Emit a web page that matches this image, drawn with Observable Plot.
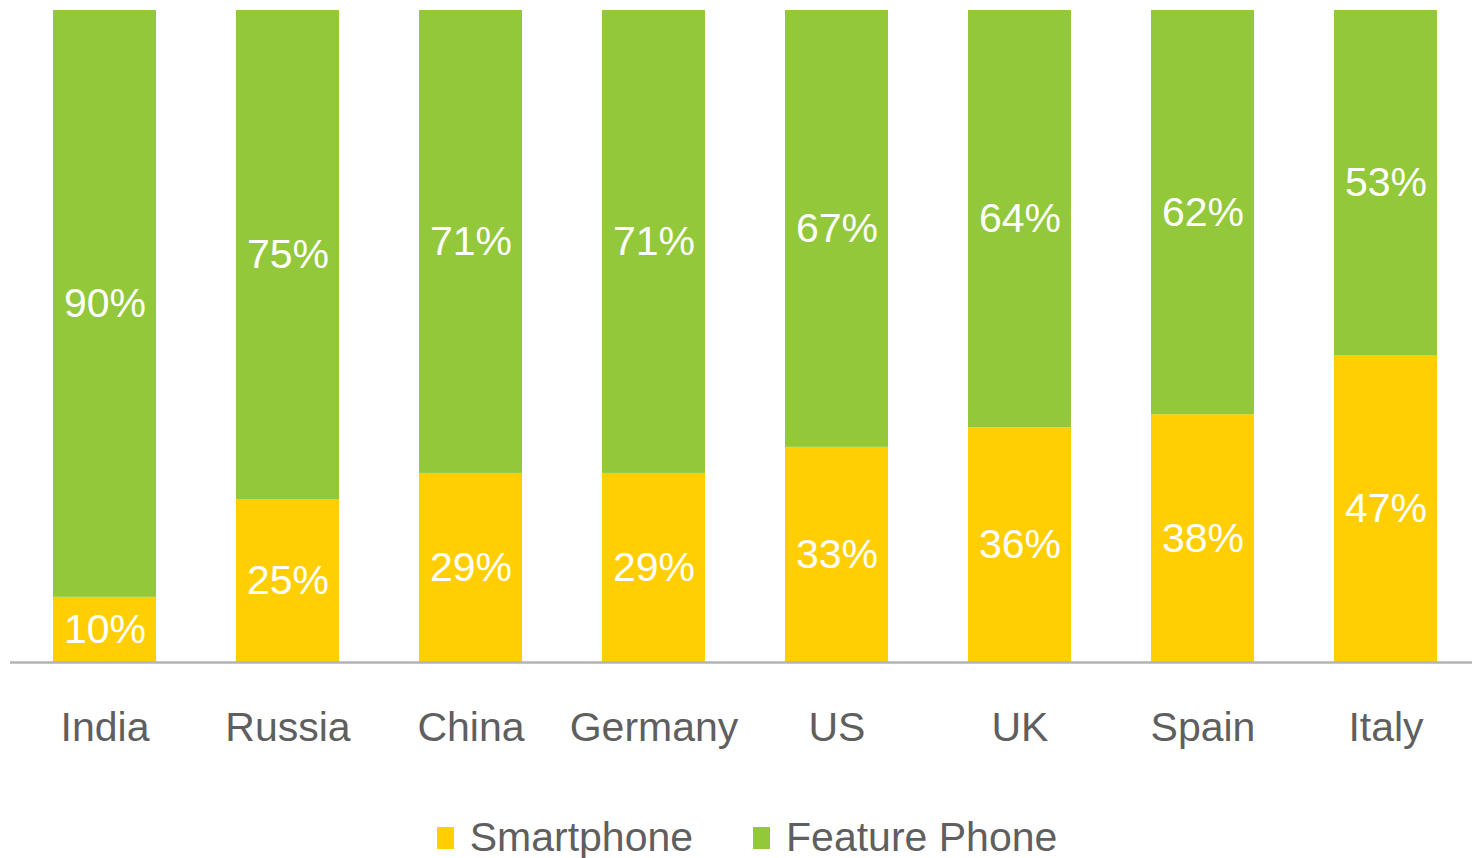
<!DOCTYPE html>
<html>
<head>
<meta charset="utf-8">
<script src="https://cdn.jsdelivr.net/npm/d3@7"></script>
<script src="https://cdn.jsdelivr.net/npm/@observablehq/plot@0.6"></script>
<style>
  body { margin: 0; background: #fff; font-family: "Liberation Sans", Arial, sans-serif; }
  #legend { display: flex; justify-content: center; align-items: center; padding-top: 34px; font-size: 41px; color: #5f5f5f; padding-left: 22px; }
  .item { display: flex; align-items: center; margin: 0 30px; }
  .sw { width: 17px; height: 22px; margin-right: 16px; }
</style>
</head>
<body>
<div id="chart"></div>
<div id="legend"></div>
<script>
const countries = ["India", "Russia", "China", "Germany", "US", "UK", "Spain", "Italy"];
const smartphone = [10, 25, 29, 29, 33, 36, 38, 47];
const featurePhone = [90, 75, 71, 71, 67, 64, 62, 53];
const seriesNames = ["Smartphone", "Feature Phone"];
const seriesColors = ["#ffcf03", "#92c83a"];

const data = [];
countries.forEach((c, i) => {
  data.push({country: c, type: seriesNames[0], value: smartphone[i]});
  data.push({country: c, type: seriesNames[1], value: featurePhone[i]});
});

const chart = Plot.plot({
  width: 1472,
  height: 780,
  marginTop: 10,
  marginBottom: 118,
  marginLeft: 10,
  marginRight: 0,
  style: {fontFamily: "'Liberation Sans', Arial, sans-serif", background: "#fff"},
  x: {domain: countries, paddingInner: 0.437, paddingOuter: 0.211, align: 0.557, label: null},
  y: {domain: [0, 100], axis: null},
  color: {domain: seriesNames, range: seriesColors},
  marks: [
    Plot.barY(data, {x: "country", y: "value", fill: "type", z: "type"}),
    Plot.text(data, Plot.stackY({x: "country", y: "value", z: "type", text: d => d.value + "%", fill: "white", fontSize: 41})),
    Plot.ruleY([0], {stroke: "#b3b3b3", strokeWidth: 2.5}),
    Plot.axisX({tickSize: 0, tickPadding: 49, fontSize: 41, color: "#5f5f5f", label: null})
  ]
});
document.getElementById("chart").appendChild(chart);

const legend = document.getElementById("legend");
seriesNames.forEach((n, i) => {
  const it = document.createElement("div");
  it.className = "item";
  const sw = document.createElement("span");
  sw.className = "sw";
  sw.style.background = seriesColors[i];
  const t = document.createElement("span");
  t.textContent = n;
  it.appendChild(sw);
  it.appendChild(t);
  legend.appendChild(it);
});
</script>
</body>
</html>
